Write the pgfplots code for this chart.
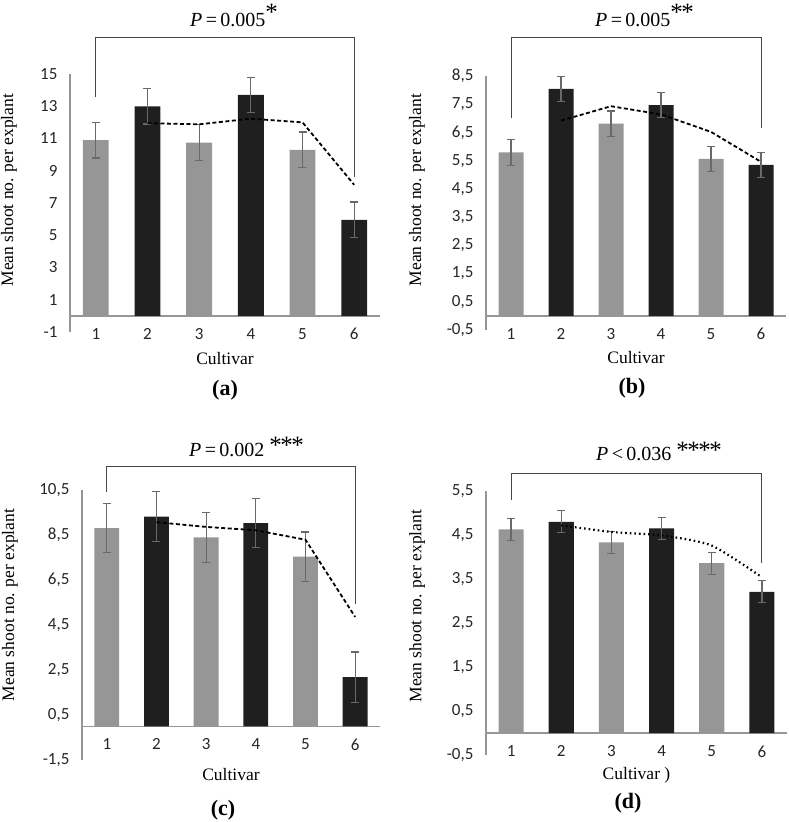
\documentclass[border=0pt]{standalone}
\usepackage{fontspec}
\setmainfont{Liberation Serif}
\newfontfamily\calfont{Carlito}
\usepackage{pgfplots}
\pgfplotsset{compat=1.18}
\definecolor{bargray}{RGB}{150,150,150}
\definecolor{barblack}{RGB}{31,31,31}
\definecolor{errgray}{RGB}{105,105,105}
\definecolor{axgray}{RGB}{150,150,150}
\definecolor{brkcol}{RGB}{70,70,70}
\newcommand{\titlefont}{\fontsize{20}{24}\selectfont}
\newcommand{\astfont}{\fontsize{25}{26}\selectfont}
\pgfplotsset{
  panel/.style={
    scale only axis, clip=false,
    axis y line*=left, axis x line*=middle,
    axis line style={draw=axgray, line width=1.3pt, -},
    xmin=0.5, xmax=6.5, xtick={1,2,3,4,5,6},
    major tick length=0pt,
    tick label style={font=\calfont\fontsize{17}{17}\selectfont, black!85},
    /pgf/number format/assume math mode=true,
    xticklabel style={yshift=-9pt},
    yticklabel style={xshift=-9pt},
    label style={font=\fontsize{17.5}{20}\selectfont},
    xlabel={Cultivar}, ylabel={Mean shoot no. per explant},
  },
  commafmt/.style={yticklabel style={/pgf/number format/.cd, fixed, fixed zerofill, precision=1, use comma}},
  gbar/.style={ybar, bar width=0.5, bar shift=0pt, fill=bargray, draw=none,
    error bars/.cd, y dir=both, y explicit,
    error bar style={errgray, line width=1.3pt},
    error mark options={errgray, rotate=90, mark size=4pt, line width=1.3pt}},
  kbar/.style={ybar, bar width=0.5, bar shift=0pt, fill=barblack, draw=none,
    error bars/.cd, y dir=both, y explicit,
    error bar style={errgray, line width=1.3pt},
    error mark options={errgray, rotate=90, mark size=4pt, line width=1.3pt}},
  ma/.style={black, line width=1.8pt, dash pattern=on 4pt off 2.5pt, no marks, sharp plot},
  brk/.style={brkcol, line width=1pt, no marks, sharp plot},
}
\begin{document}
\begin{tikzpicture}
\useasboundingbox (0,0) rectangle (789pt,-822pt);

% ---------------- (a)
\begin{axis}[panel, at={(70pt,-332pt)}, anchor=south west, width=310pt, height=258pt,
  ymin=-1, ymax=15, ytick={-1,1,...,15},
  xlabel style={at={(axis description cs:0.5,-0.101)}, anchor=center},
  ylabel style={at={(axis description cs:-0.197,0.55)}, anchor=center}]
\addplot[gbar] coordinates {(1,10.9) +- (0,1.1) (3,10.75) +- (0,1.1) (5,10.3) +- (0,1.1)};
\addplot[kbar] coordinates {(2,13.0) +- (0,1.1) (4,13.7) +- (0,1.1) (6,5.96) +- (0,1.1)};
\addplot[ma] coordinates {(2,11.95) (3,11.88) (4,12.23) (5,12.0) (6,8.13)};
\addplot[brk] coordinates {(1,13.6) (1,17.25) (6,17.25) (6,8.6)};
\end{axis}

% ---------------- (b)
\begin{axis}[panel, commafmt, at={(486pt,-330pt)}, anchor=south west, width=300pt, height=254pt,
  ymin=-0.5, ymax=8.5, ytick={-0.5,0.5,1.5,2.5,3.5,4.5,5.5,6.5,7.5,8.5},
  xlabel style={at={(axis description cs:0.5,-0.110)}, anchor=center},
  ylabel style={at={(axis description cs:-0.23,0.551)}, anchor=center}]
\addplot[gbar] coordinates {(1,5.79) +- (0,0.45) (3,6.81) +- (0,0.45) (5,5.56) +- (0,0.45)};
\addplot[kbar] coordinates {(2,8.04) +- (0,0.45) (4,7.47) +- (0,0.45) (6,5.35) +- (0,0.45)};
\addplot[ma] coordinates {(2,6.92) (3,7.43) (4,7.14) (5,6.52) (6,5.46)};
\addplot[brk] coordinates {(1,7.0) (1,9.87) (6,9.87) (6,6.65)};
\end{axis}

% ---------------- (c)
\begin{axis}[panel, commafmt, at={(82pt,-760pt)}, anchor=south west, width=298pt, height=270pt,
  ymin=-1.5, ymax=10.5, ytick={-1.5,0.5,2.5,4.5,6.5,8.5,10.5},
  xlabel style={at={(axis description cs:0.5,-0.052)}, anchor=center},
  ylabel style={at={(axis description cs:-0.242,0.574)}, anchor=center}]
\addplot[gbar] coordinates {(1,8.81) +- (0,1.1) (3,8.39) +- (0,1.1) (5,7.54) +- (0,1.1)};
\addplot[kbar] coordinates {(2,9.32) +- (0,1.1) (4,9.03) +- (0,1.1) (6,2.18) +- (0,1.12)};
\addplot[ma] coordinates {(2,9.07) (3,8.86) (4,8.71) (5,8.29) (6,4.86)};
\addplot[brk] coordinates {(1,10.43) (1,11.55) (6,11.55) (6,5.43)};
\end{axis}

% ---------------- (d)
\begin{axis}[panel, commafmt, at={(486pt,-755pt)}, anchor=south west, width=301pt, height=264pt,
  ymin=-0.5, ymax=5.5, ytick={-0.5,0.5,1.5,2.5,3.5,4.5,5.5},
  xlabel={Cultivar )},
  xlabel style={at={(axis description cs:0.5,-0.076)}, anchor=center},
  ylabel style={at={(axis description cs:-0.229,0.564)}, anchor=center}]
\addplot[gbar] coordinates {(1,4.63) +- (0,0.25) (3,4.33) +- (0,0.25) (5,3.86) +- (0,0.25)};
\addplot[kbar] coordinates {(2,4.80) +- (0,0.25) (4,4.65) +- (0,0.25) (6,3.21) +- (0,0.25)};
\addplot[black, line width=2.2pt, dash pattern=on 1.6pt off 3pt, no marks, smooth, tension=0.4] coordinates {(2,4.72) (3,4.57) (4,4.49) (5,4.26) (6,3.54)};
\addplot[brk] coordinates {(1,5.29) (1,5.9) (6,5.9) (6,3.86)};
\end{axis}

% titles
\node[anchor=base west, inner sep=0pt] at (190pt,-26.7pt) {\titlefont\textit{P}\,=\,0.005\raisebox{6pt}{\astfont*}};
\node[anchor=base west, inner sep=0pt] at (595pt,-26pt) {\titlefont\textit{P}\,=\,0.005\raisebox{6pt}{\astfont*\kern-1.5pt*}};
\node[anchor=base west, inner sep=0pt] at (189pt,-456pt) {\titlefont\textit{P}\,=\,0.002 \raisebox{3pt}{\astfont*\kern-1.5pt*\kern-1.5pt*}};
\node[anchor=base west, inner sep=0pt] at (596pt,-460pt) {\titlefont\textit{P}\,<\,0.036 \raisebox{2pt}{\astfont*\kern-1.5pt*\kern-1.5pt*\kern-1.5pt*}};

% panel labels
\node[font=\bfseries\fontsize{22}{26}\selectfont] at (225pt,-390pt) {(a)};
\node[font=\bfseries\fontsize{22}{26}\selectfont] at (632pt,-388pt) {(b)};
\node[font=\bfseries\fontsize{22}{26}\selectfont] at (223pt,-810pt) {(c)};
\node[font=\bfseries\fontsize{22}{26}\selectfont] at (628pt,-803pt) {(d)};
\end{tikzpicture}
\end{document}
